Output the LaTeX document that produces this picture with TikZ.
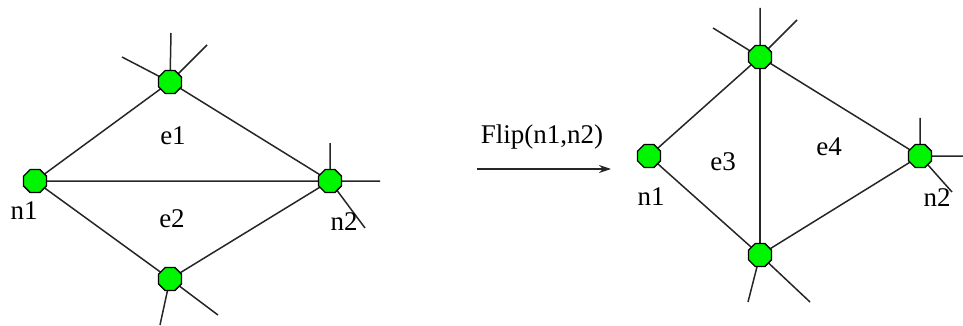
\documentclass[tikz,border=0pt]{standalone}
\usepackage{fontspec}
\setmainfont{Liberation Serif}
\usetikzlibrary{shapes.geometric,backgrounds,arrows.meta}
\definecolor{nodegreen}{RGB}{0,245,0}
\tikzset{
  vtx/.style={regular polygon,regular polygon sides=8,minimum size=25pt,inner sep=0pt,fill=nodegreen,draw=black,line width=1.3pt},
  edge/.style={line width=1.5pt,draw=black!85},
  lbl/.style={font=\fontsize{27}{27}\selectfont,inner sep=0pt}
}
\begin{document}
\begin{tikzpicture}[x=1pt,y=-1pt]
\useasboundingbox (0,0) rectangle (963,326);
% left graph
\node[vtx] (L1) at (35,181) {};
\node[vtx] (LT) at (170,82) {};
\node[vtx] (L2) at (330,181) {};
\node[vtx] (LB) at (170,279) {};
\coordinate (LTa) at (122,57);
\coordinate (LTb) at (171,33);
\coordinate (LTc) at (207,45);
\coordinate (L2a) at (330,143);
\coordinate (L2b) at (380,181);
\coordinate (L2c) at (365,228);
\coordinate (LBa) at (160,325);
\coordinate (LBb) at (218,315);
\node[lbl] (n1L) at (24,211) {n1};
\node[lbl] (n2L) at (344,222) {n2};
\node[lbl] (e1) at (173,136) {e1};
\node[lbl] (e2) at (172,219) {e2};
% arrow
\coordinate (A0) at (477,169);
\coordinate (A1) at (611,169);
\draw[edge,-{Stealth[length=12pt,width=8pt]}] (A0) -- (A1);
\node[lbl] (flip) at (542,137) {Flip(n1,n2)};
% right graph
\node[vtx] (R1) at (649,156) {};
\node[vtx] (RT) at (760,57) {};
\node[vtx] (R2) at (920,156) {};
\node[vtx] (RB) at (760,255) {};
\coordinate (RTa) at (713,28);
\coordinate (RTb) at (760,8);
\coordinate (RTc) at (797,20);
\coordinate (R2a) at (920,118);
\coordinate (R2b) at (963,156);
\coordinate (R2c) at (952,192);
\coordinate (RBa) at (748,302);
\coordinate (RBb) at (810,302);
\node[lbl] (n1R) at (651,197) {n1};
\node[lbl] (n2R) at (937,198) {n2};
\node[lbl] (e3) at (723,162) {e3};
\node[lbl] (e4) at (829,147) {e4};
\begin{scope}[on background layer]
\draw[edge] (L1.center) -- (LT.center) -- (L2.center) -- (LB.center) -- (L1.center) -- (L2.center);
\draw[edge] (LT.center) -- (LTa) (LT.center) -- (LTb) (LT.center) -- (LTc);
\draw[edge] (L2.center) -- (L2a) (L2.center) -- (L2b) (L2.center) -- (L2c);
\draw[edge] (LB.center) -- (LBa) (LB.center) -- (LBb);
\draw[edge] (R1.center) -- (RT.center) -- (R2.center) -- (RB.center) -- (R1.center);
\draw[edge] (RT.center) -- (RB.center);
\draw[edge] (RT.center) -- (RTa) (RT.center) -- (RTb) (RT.center) -- (RTc);
\draw[edge] (R2.center) -- (R2a) (R2.center) -- (R2b) (R2.center) -- (R2c);
\draw[edge] (RB.center) -- (RBa) (RB.center) -- (RBb);
\end{scope}
\end{tikzpicture}
\end{document}
